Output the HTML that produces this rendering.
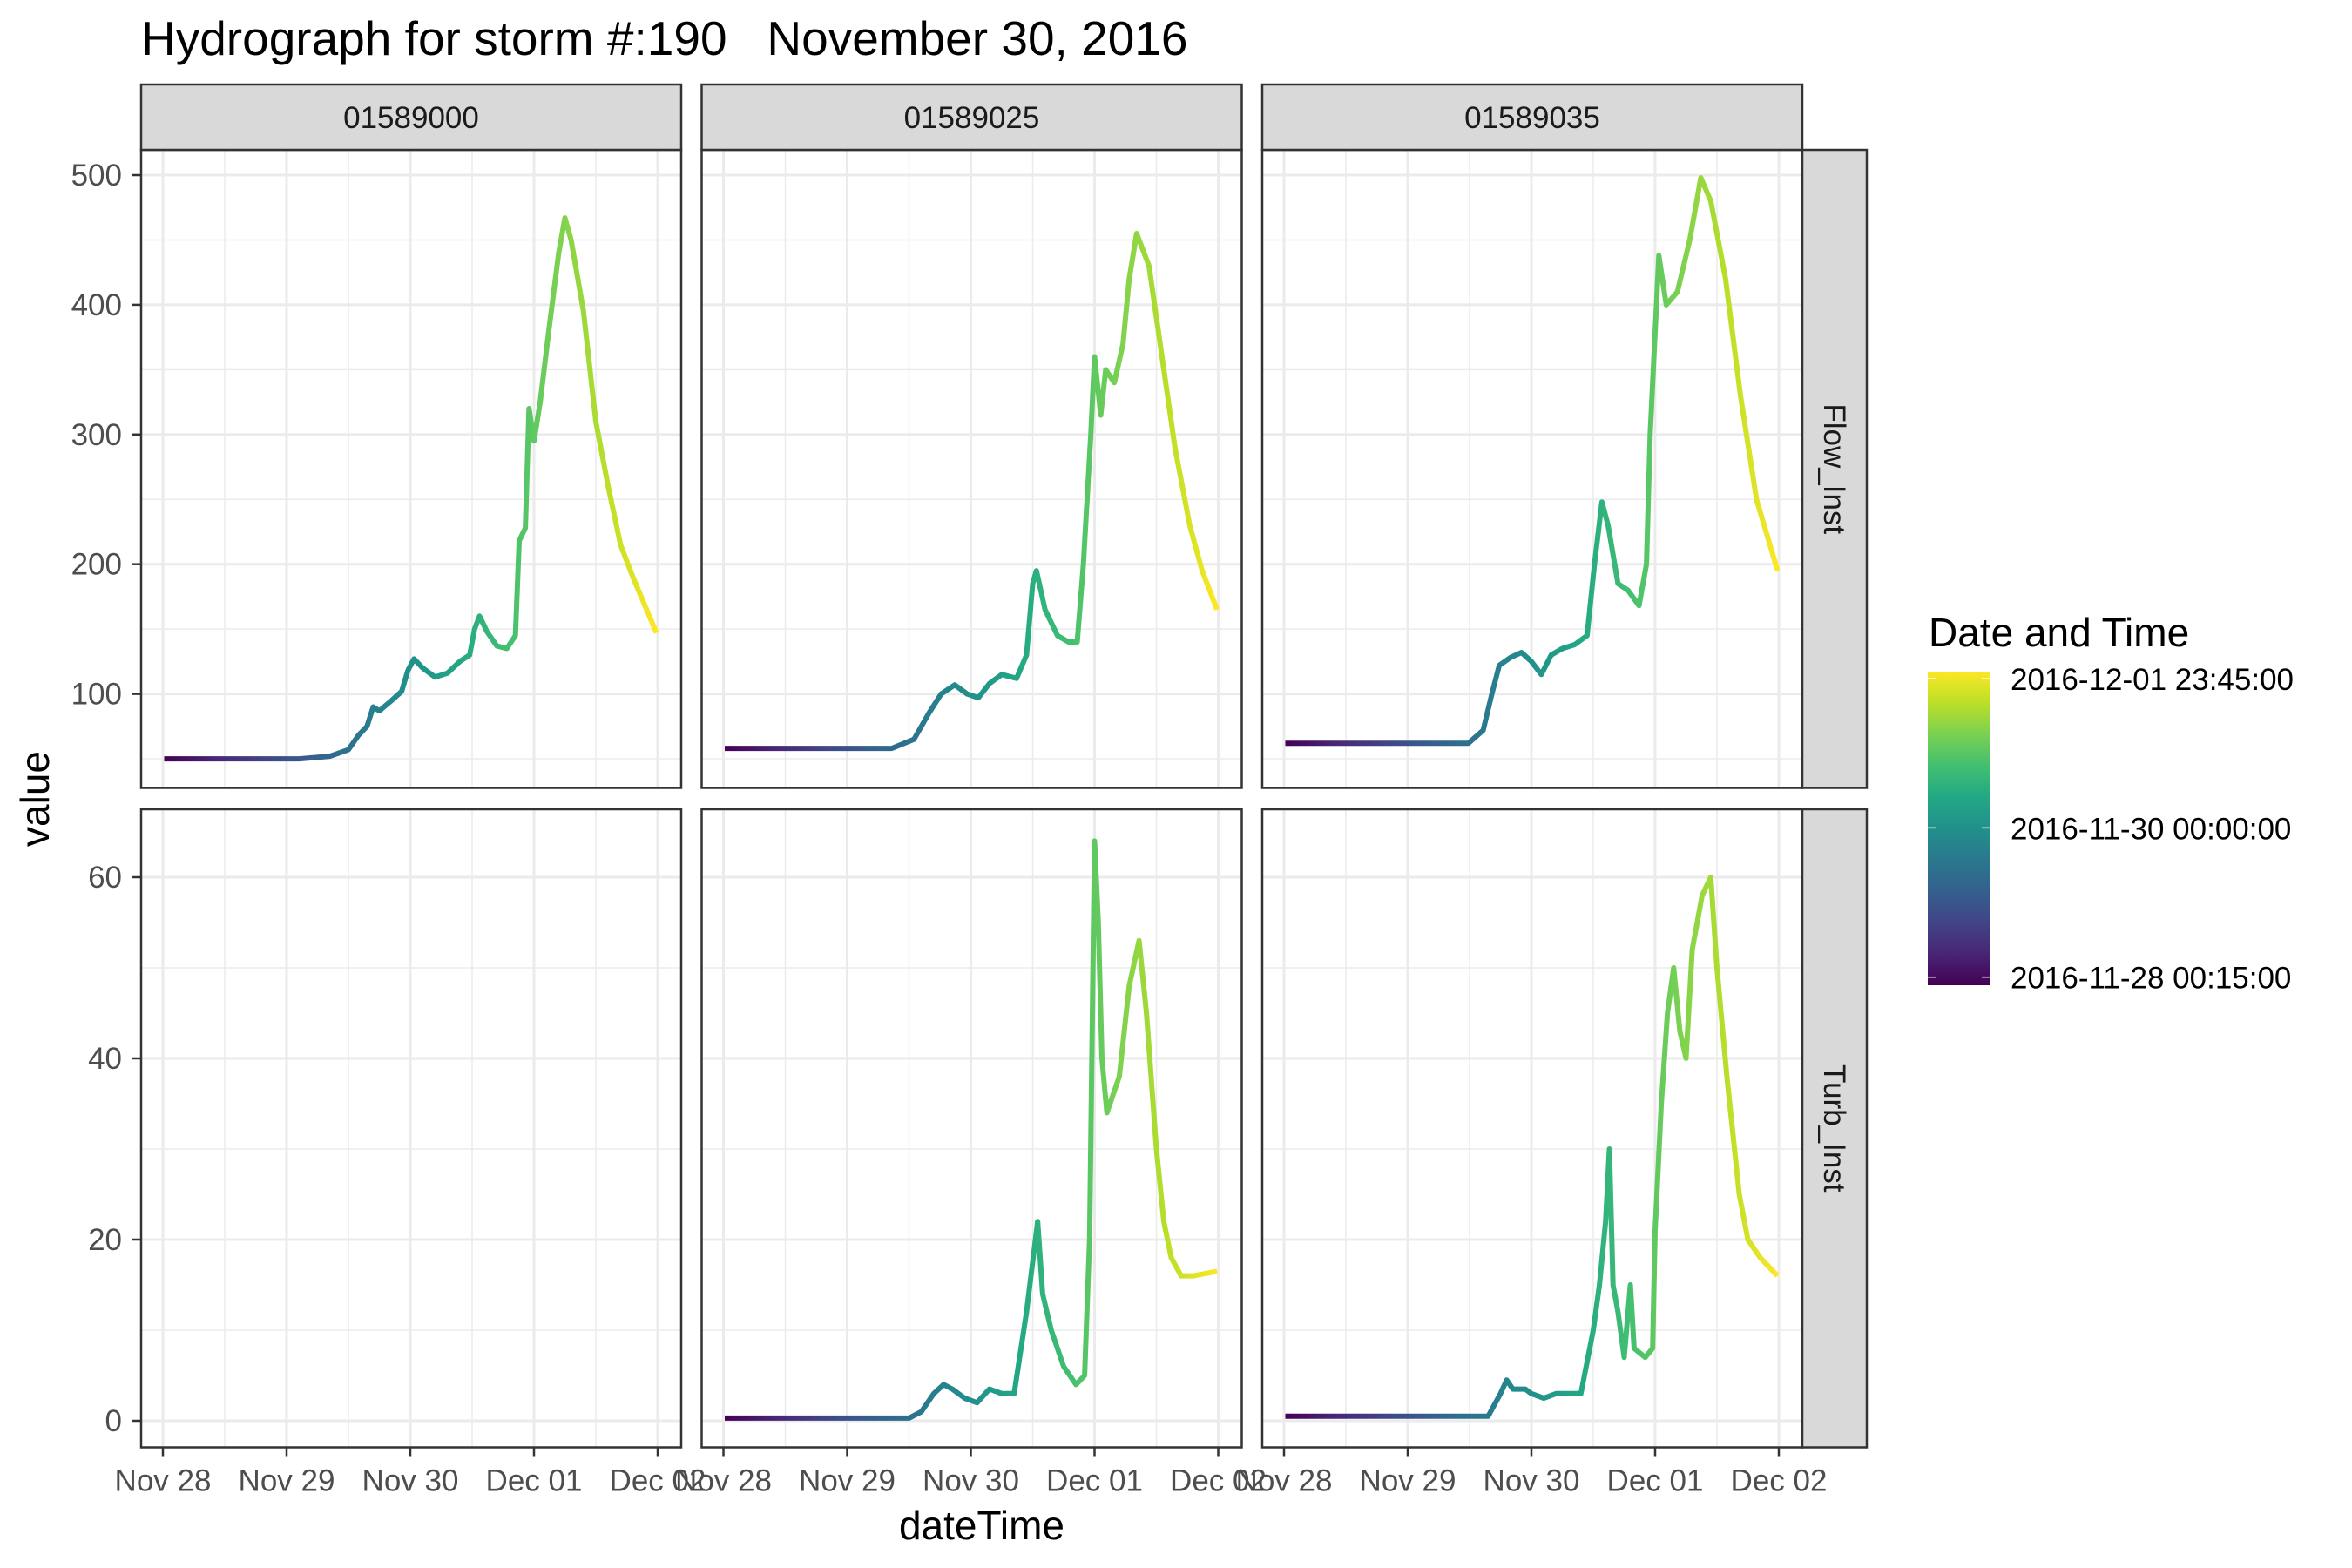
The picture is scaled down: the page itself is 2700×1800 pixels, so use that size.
<!DOCTYPE html>
<html><head><meta charset="utf-8">
<style>
html,body{margin:0;padding:0;background:#fff;}
svg{display:block;font-family:"Liberation Sans",Arial,sans-serif;}
</style></head>
<body>
<svg id="chart" width="2700" height="1800" viewBox="0 0 2700 1800" xmlns="http://www.w3.org/2000/svg">
<defs id="defs"></defs>
<rect x="0" y="0" width="2700" height="1800" fill="#fff"/>
<text x="162" y="63" font-size="55" fill="#000" style="white-space:pre">Hydrograph for storm #:190   November 30, 2016</text>
<g id="panels"></g>
<text transform="translate(56,917) rotate(-90)" text-anchor="middle" font-size="46" fill="#000">value</text>
<text x="1127" y="1767" text-anchor="middle" font-size="46" fill="#000">dateTime</text>
<g id="legend">
<text x="2214" y="742" font-size="46" fill="#000">Date and Time</text>
<rect x="2213" y="771" width="72" height="360" fill="url(#vgradV)"/>
</g>
</svg>
<script>
// ---- data (t = days since 2016-11-28 00:00) ----
const xTickLabels = ["Nov 28","Nov 29","Nov 30","Dec 01","Dec 02"];
const sites = ["01589000","01589025","01589035"];
const params = ["Flow_Inst","Turb_Inst"];
const flowTicks = [100,200,300,400,500];
const turbTicks = [0,20,40,60];
const legendLabels = ["2016-12-01 23:45:00","2016-11-30 00:00:00","2016-11-28 00:15:00"];
const legendTimes = [3.99,2.0,0.0104];
const tMin = 0.0104, tMax = 3.99;

const flow1T = [0.0104,1.1,1.35,1.5,1.58,1.65,1.7,1.75,1.85,1.93,1.98,2.03,2.1,2.2,2.3,2.4,2.48,2.52,2.56,2.62,2.7,2.78,2.85,2.88,2.93,2.96,3.0,3.05,3.12,3.2,3.25,3.3,3.4,3.5,3.6,3.7,3.8,3.99];
const flow1V = [50,50,52,57,68,75,90,87,95,102,118,127,120,113,116,125,130,150,160,148,137,135,145,218,228,320,295,325,380,440,467,450,395,310,260,215,190,147];
const flow2T = [0.0104,1.36,1.54,1.66,1.76,1.87,1.97,2.06,2.15,2.25,2.37,2.45,2.5,2.53,2.6,2.7,2.79,2.86,2.91,2.97,3.0,3.05,3.09,3.16,3.23,3.28,3.34,3.44,3.53,3.65,3.77,3.87,3.99];
const flow2V = [58,58,65,85,100,107,100,97,108,115,112,130,185,195,165,145,140,140,200,300,360,315,350,340,370,420,455,430,370,290,230,195,165];
const flow3T = [0.0104,1.49,1.61,1.68,1.74,1.83,1.92,2.0,2.08,2.16,2.25,2.35,2.45,2.51,2.57,2.62,2.7,2.78,2.87,2.93,2.96,3.03,3.09,3.18,3.28,3.37,3.45,3.57,3.69,3.82,3.99];
const flow3V = [62,62,72,100,122,128,132,125,115,130,135,138,145,200,248,230,185,180,168,200,300,438,400,410,450,498,480,420,330,250,195];
const turb2T = [0.0104,1.5,1.6,1.7,1.78,1.85,1.95,2.05,2.15,2.25,2.35,2.45,2.54,2.58,2.65,2.75,2.85,2.92,2.96,3.0,3.03,3.06,3.1,3.2,3.28,3.36,3.42,3.5,3.56,3.62,3.7,3.8,3.99];
const turb2V = [0.3,0.3,1,3,4,3.5,2.5,2,3.5,3,3,12,22,14,10,6,4,5,20,64,55,40,34,38,48,53,45,30,22,18,16,16,16.5];
const turb3T = [0.0104,1.65,1.75,1.8,1.85,1.95,2.0,2.1,2.2,2.3,2.4,2.5,2.55,2.6,2.63,2.66,2.7,2.75,2.8,2.83,2.92,2.98,3.0,3.05,3.1,3.15,3.2,3.25,3.3,3.38,3.45,3.5,3.58,3.68,3.75,3.85,3.92,3.99];
const turb3V = [0.5,0.5,3,4.5,3.5,3.5,3,2.5,3,3,3,10,15,22,30,15,12,7,15,8,7,8,21,35,45,50,43,40,52,58,60,50,38,25,20,18,17,16];

const series = [
  {row:0,col:0,t:flow1T,v:flow1V},
  {row:0,col:1,t:flow2T,v:flow2V},
  {row:0,col:2,t:flow3T,v:flow3V},
  {row:1,col:1,t:turb2T,v:turb2V},
  {row:1,col:2,t:turb3T,v:turb3V}
];

// ---- layout ----
const NS = "http://www.w3.org/2000/svg";
const colLeft = [162, 805.5, 1449];
const panelW = 620;
const rowTop = [172, 929];
const panelH = 732.5;
function xScale(t, col){ return colLeft[col] + 25 + t*142; }
function yFlow(v){ return 201 + (500 - v)*1.489; }
function yTurb(v){ return 1631 - v*10.4; }
function yScale(v,row){ return row===0 ? yFlow(v) : yTurb(v); }
function legendY(t){ return 1121.7 - (t - 0.0104)/(3.99-0.0104)*(1121.7-779); }

const viridis = ["#440154","#482576","#414487","#35608D","#2A788E","#21908C","#22A884","#43BF71","#7AD151","#BBDF27","#FDE725"];

function mk(tag, attrs, parent){
  const e = document.createElementNS(NS, tag);
  for (const k in attrs) e.setAttribute(k, attrs[k]);
  if (parent) parent.appendChild(e);
  return e;
}
const defs = document.getElementById('defs');
const vg = mk('linearGradient',{id:'vgradV',x1:'0',y1:'1',x2:'0',y2:'0'},defs);
viridis.forEach((c,i)=>mk('stop',{offset:(i/(viridis.length-1)),'stop-color':c},vg));
for (let c=0;c<3;c++){
  const g = mk('linearGradient',{id:'hgrad'+c,gradientUnits:'userSpaceOnUse',x1:xScale(tMin,c),y1:0,x2:xScale(tMax,c),y2:0},defs);
  viridis.forEach((col,i)=>mk('stop',{offset:(i/(viridis.length-1)),'stop-color':col},g));
}

const panels = document.getElementById('panels');
for (let r=0;r<2;r++){
  for (let c=0;c<3;c++){
    const g = mk('g',{},panels);
    
    
    const L = colLeft[c], T = rowTop[r], B = T+panelH, R = L+panelW;
    mk('rect',{x:L,y:T,width:panelW,height:panelH,fill:'#fff'},g);
    for (let d=0; d<4; d++){
      const x = xScale(d+0.5,c);
      const ln = mk('line',{x1:x,x2:x,y1:T,y2:B,stroke:'#EBEBEB','stroke-width':1.5},g);
      
      
    }
    const minors = r===0 ? [50,150,250,350,450] : [10,30,50];
    minors.forEach(v=>{
      const y = yScale(v,r);
      if (y<T||y>B) return;
      const ln = mk('line',{x1:L,x2:R,y1:y,y2:y,stroke:'#EBEBEB','stroke-width':1.5},g);
      
      
    });
    xTickLabels.forEach((lab,d)=>{
      const x = xScale(d,c);
      const ln = mk('line',{x1:x,x2:x,y1:T,y2:B,stroke:'#EBEBEB','stroke-width':3},g);
      
      
    });
    const majors = r===0 ? flowTicks : turbTicks;
    majors.forEach(v=>{
      const y = yScale(v,r);
      const ln = mk('line',{x1:L,x2:R,y1:y,y2:y,stroke:'#EBEBEB','stroke-width':3},g);
      
      
    });
    if (c===0){
      majors.forEach(v=>{
        const y = yScale(v,r);
        const tk = mk('line',{x1:L-11,x2:L,y1:y,y2:y,stroke:'#333','stroke-width':2.5},panels);
        
        
        const tx = mk('text',{x:L-22,y:y+12,'text-anchor':'end','font-size':35,fill:'#4D4D4D'},panels);
        tx.textContent = String(v);
        
        
      });
    }
    if (r===1){
      xTickLabels.forEach((lab,d)=>{
        const x = xScale(d,c);
        const tk = mk('line',{x1:x,x2:x,y1:B,y2:B+11,stroke:'#333','stroke-width':2.5},panels);
        
        
        const tx = mk('text',{x:x,y:B+50,'text-anchor':'middle','font-size':35,fill:'#4D4D4D'},panels);
        tx.textContent = lab;
        
        
      });
    }
    const bd = mk('rect',{x:L,y:T,width:panelW,height:panelH,fill:'none',stroke:'#333','stroke-width':2.5},panels);
    
    
  }
}
series.forEach(s=>{
  let d = '';
  for (let i=0;i<s.t.length;i++){
    d += (i?'L':'M') + xScale(s.t[i],s.col).toFixed(1) + ',' + yScale(s.v[i],s.row).toFixed(1);
  }
  const p = mk('path',{d:d,fill:'none',stroke:'url(#hgrad'+s.col+')','stroke-width':6,'stroke-linejoin':'round'},panels);
  
  
});
for (let c=0;c<3;c++){
  const st = mk('rect',{x:colLeft[c],y:97,width:panelW,height:75,fill:'#D9D9D9',stroke:'#333','stroke-width':2.5},panels);
  
  
  const tx = mk('text',{x:colLeft[c]+panelW/2,y:147,'text-anchor':'middle','font-size':35,fill:'#1A1A1A'},panels);
  tx.textContent = sites[c];
  
  
}
for (let r=0;r<2;r++){
  const st = mk('rect',{x:2069,y:rowTop[r],width:74,height:panelH,fill:'#D9D9D9',stroke:'#333','stroke-width':2.5},panels);
  
  
  const cy = rowTop[r]+panelH/2;
  const tx = mk('text',{transform:'translate(2094,'+cy+') rotate(90)','text-anchor':'middle','font-size':35,fill:'#1A1A1A'},panels);
  tx.textContent = params[r];
  
  
}
const leg = document.getElementById('legend');
legendLabels.forEach((lab,i)=>{
  const y = legendY(legendTimes[i]);
  const a = mk('line',{x1:2213,x2:2223,y1:y,y2:y,stroke:'#fff','stroke-width':1.5},leg);
  
  
  const b = mk('line',{x1:2275,x2:2285,y1:y,y2:y,stroke:'#fff','stroke-width':1.5},leg);
  
  
  const tx = mk('text',{x:2308,y:y+13,'font-size':35,fill:'#000'},leg);
  tx.textContent = lab;
  
  
});
</script>
</body></html>
